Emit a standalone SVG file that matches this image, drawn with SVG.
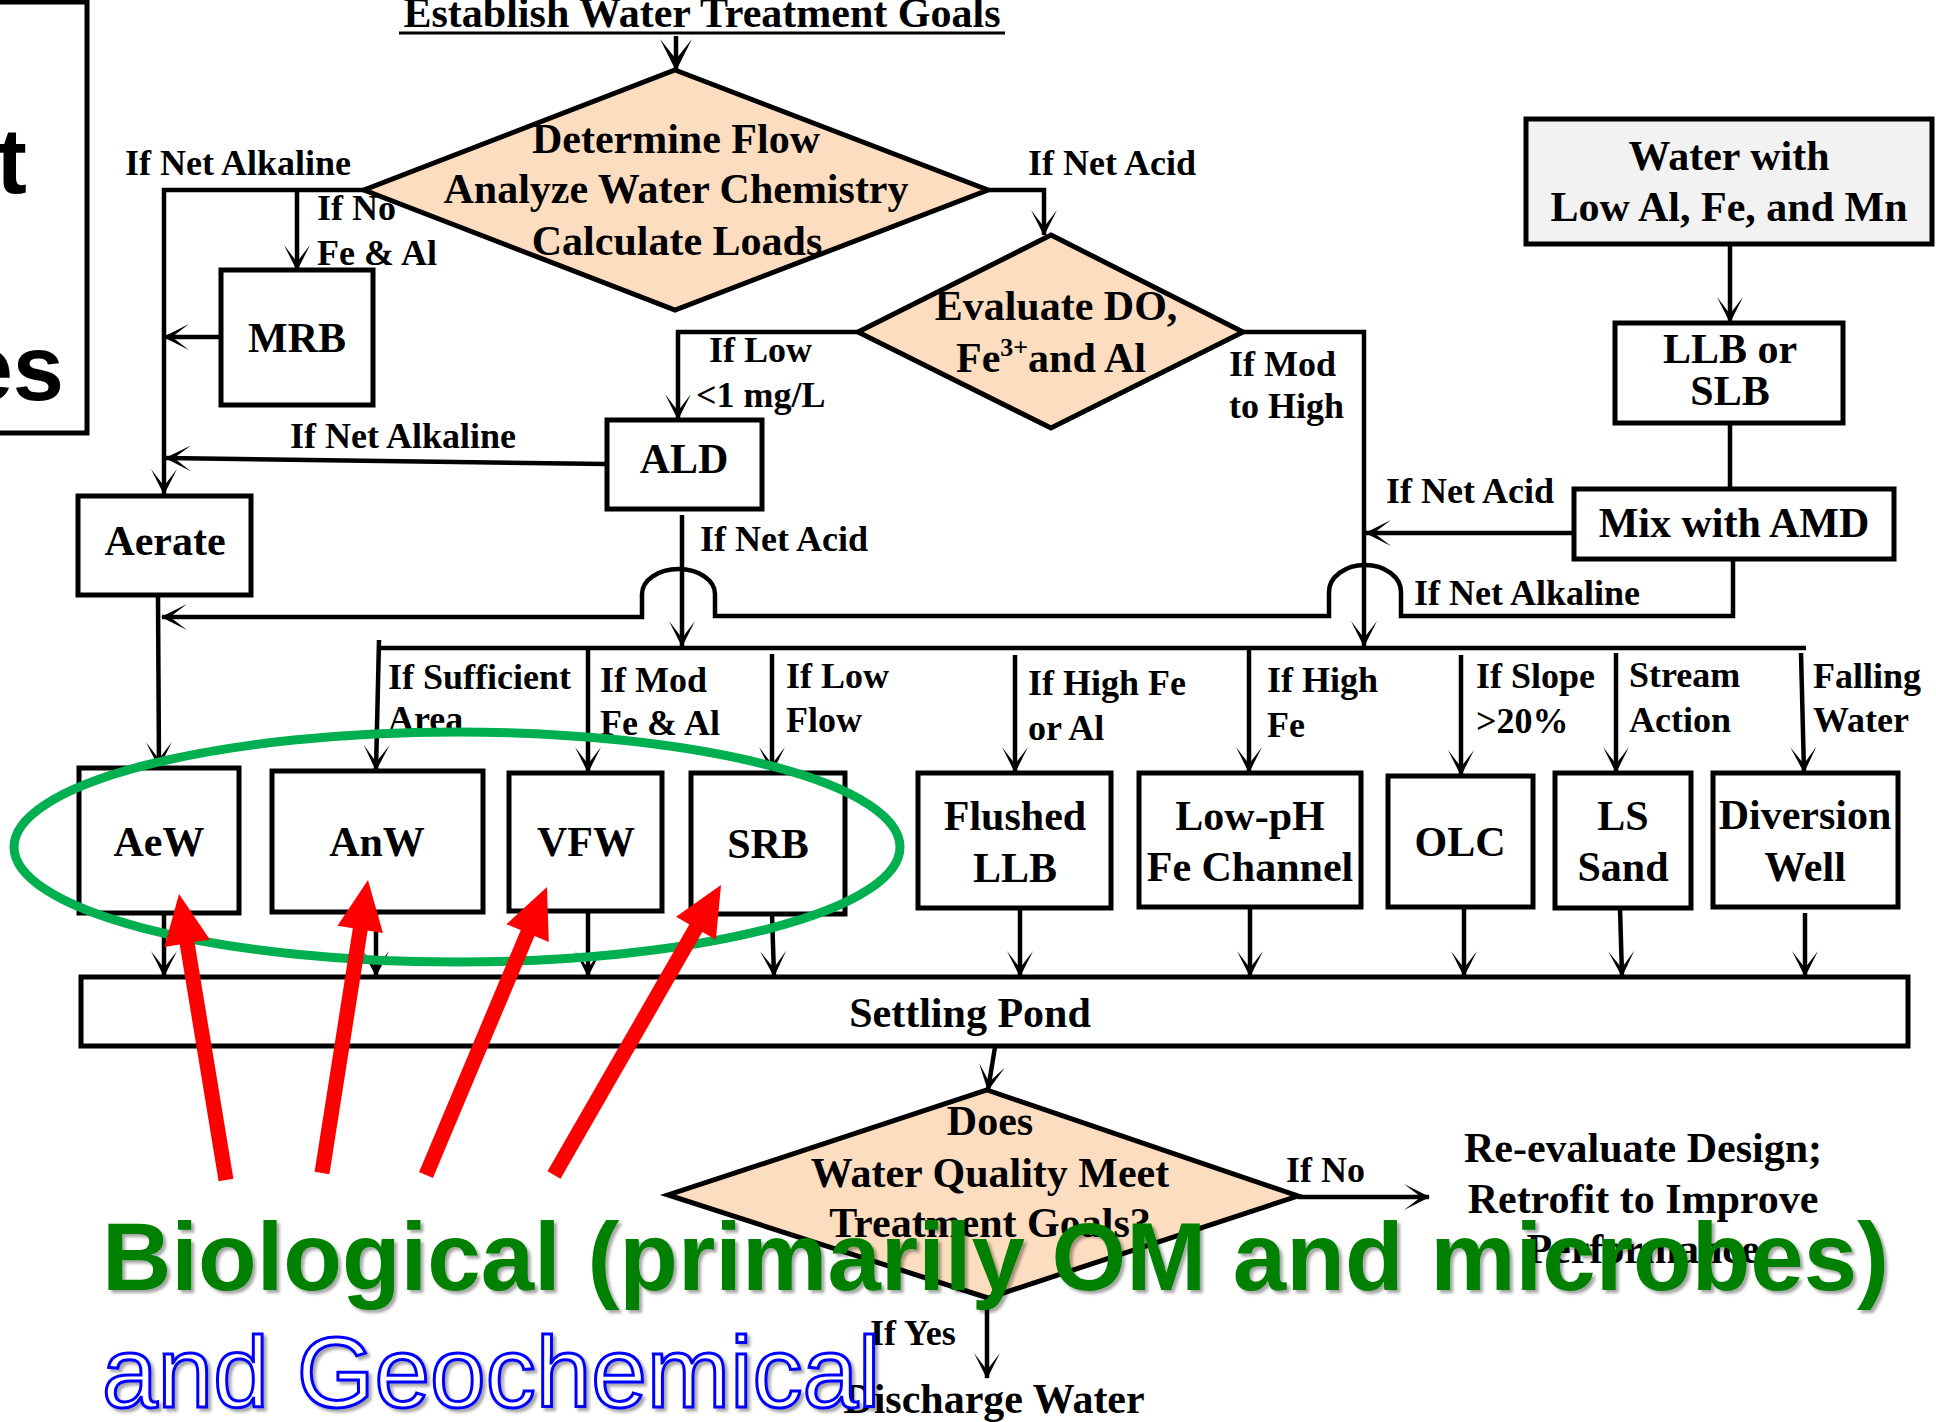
<svg xmlns="http://www.w3.org/2000/svg" width="1936" height="1422" viewBox="0 0 1936 1422">
<defs>
<style>
.bx{fill:#fff;stroke:#000;stroke-width:5}
.dm{fill:#FCDDC0;stroke:#000;stroke-width:5;stroke-linejoin:miter}
.c{fill:none;stroke:#000;stroke-width:4.5}
.ca{fill:none;stroke:#000;stroke-width:4.5;marker-end:url(#ah)}
.t{font-family:"Liberation Serif","Times New Roman",serif;font-weight:bold;font-size:42px;text-anchor:middle;fill:#000}
.l{font-family:"Liberation Serif","Times New Roman",serif;font-weight:bold;font-size:36px;fill:#000}
.red{fill:none;stroke:#FF0000;stroke-width:15}
.rh{fill:#FF0000}
</style>
<marker id="ah" viewBox="0 0 26 26" refX="25" refY="13" markerWidth="26" markerHeight="26" markerUnits="userSpaceOnUse" orient="auto">
<path d="M0,0 L26,13 L0,26 L17,13 z" fill="#000"/>
</marker>
<marker id="ahb" viewBox="0 0 32 32" refX="31" refY="16" markerWidth="32" markerHeight="32" markerUnits="userSpaceOnUse" orient="auto">
<path d="M0,0 L32,16 L0,32 L20,16 z" fill="#000"/>
</marker>
<filter id="sh" x="-5%" y="-20%" width="110%" height="140%">
<feDropShadow dx="3" dy="3" stdDeviation="1.5" flood-color="#000" flood-opacity="0.35"/>
</filter>
</defs>
<rect width="1936" height="1422" fill="#fff"/>

<g id="leftbox">
<rect x="-10" y="2" width="97" height="431" class="bx"/>
<text x="27" y="193" font-family="Liberation Sans,Arial,sans-serif" font-weight="bold" font-size="92" text-anchor="end">t</text>
<text x="64" y="400" font-family="Liberation Sans,Arial,sans-serif" font-weight="bold" font-size="92" text-anchor="end">es</text>
</g>

<g id="connectors">
<path class="c" d="M676,36 L676,70" marker-end="url(#ahb)"/>
<path class="ca" d="M366,190 L164,190 L164,494"/>
<path class="ca" d="M297,190 L297,270"/>
<path class="ca" d="M221,337 L164,337"/>
<path class="ca" d="M988,190 L1044,190 L1044,235"/>
<path class="ca" d="M858,332 L678,332 L678,419"/>
<path class="ca" d="M606,464 L166,458"/>
<path class="ca" d="M158,597 L159,767"/>
<path class="ca" d="M682,515 L682,646"/>
<path class="ca" d="M1243,332 L1364,332 L1364,646"/>
<path class="ca" d="M1730,244 L1730,322"/>
<path class="c" d="M1730,423 L1730,489"/>
<path class="ca" d="M1574,533 L1366,533"/>
<path class="ca" d="M1733,559 L1733,616 L1401,616 L1401,592 A36,27 0 0 0 1329,592 L1329,616 L715,616 L715,594 A36.5,25 0 0 0 642,594 L642,617 L162,617"/>
<path class="c" d="M377,648 L1806,648"/>
<path class="ca" d="M379,640 L376,770"/>
<path class="ca" d="M588,648 L588,772"/>
<path class="ca" d="M772,654 L772,772"/>
<path class="ca" d="M1015,655 L1015,772"/>
<path class="ca" d="M1249,648 L1249,772"/>
<path class="ca" d="M1461,655 L1461,775"/>
<path class="ca" d="M1616,653 L1616,772"/>
<path class="ca" d="M1801,653 L1804,772"/>
<path class="ca" d="M164,915 L164,976"/>
<path class="ca" d="M376,912 L376,976"/>
<path class="ca" d="M588,911 L588,976"/>
<path class="ca" d="M772,914 L774,976"/>
<path class="ca" d="M1020,908 L1020,976"/>
<path class="ca" d="M1250,905 L1250,976"/>
<path class="ca" d="M1464,907 L1464,976"/>
<path class="ca" d="M1620,908 L1622,976"/>
<path class="ca" d="M1805,913 L1805,976"/>
<path class="ca" d="M995,1047 L988,1090"/>
<path class="ca" d="M1298,1197 L1429,1197"/>
<path class="ca" d="M987,1298 L987,1378"/>
</g>

<g id="labels">
<text class="l" x="125" y="175">If Net Alkaline</text>
<text class="l" x="317" y="220">If No</text>
<text class="l" x="317" y="265">Fe &amp; Al</text>
<text class="l" x="1028" y="175">If Net Acid</text>
<text class="l" x="709" y="362">If Low</text>
<text class="l" x="696" y="407">&lt;1 mg/L</text>
<text class="l" x="1229" y="376">If Mod</text>
<text class="l" x="1229" y="418">to High</text>
<text class="l" x="290" y="448">If Net Alkaline</text>
<text class="l" x="700" y="551">If Net Acid</text>
<text class="l" x="1386" y="503">If Net Acid</text>
<text class="l" x="1414" y="605">If Net Alkaline</text>
<text class="l" x="388" y="689">If Sufficient</text>
<text class="l" x="388" y="731">Area</text>
<text class="l" x="600" y="692">If Mod</text>
<text class="l" x="600" y="735">Fe &amp; Al</text>
<text class="l" x="786" y="688">If Low</text>
<text class="l" x="786" y="732">Flow</text>
<text class="l" x="1028" y="695">If High Fe</text>
<text class="l" x="1028" y="740">or Al</text>
<text class="l" x="1267" y="692">If High</text>
<text class="l" x="1267" y="737">Fe</text>
<text class="l" x="1476" y="688">If Slope</text>
<text class="l" x="1476" y="733">&gt;20%</text>
<text class="l" x="1629" y="687">Stream</text>
<text class="l" x="1629" y="732">Action</text>
<text class="l" x="1813" y="688">Falling</text>
<text class="l" x="1813" y="732">Water</text>
<text class="l" x="1286" y="1182">If No</text>
<text class="l" x="870" y="1345">If Yes</text>
</g>

<g id="title">
<text class="t" x="702" y="27">Establish Water Treatment Goals</text>
<line x1="399" y1="33" x2="1005" y2="33" stroke="#000" stroke-width="3"/>
</g>

<g id="determine">
<polygon class="dm" points="675,70 988,190 675,310 364,190"/>
<text class="t" x="676" y="153">Determine Flow</text>
<text class="t" x="676" y="203">Analyze Water Chemistry</text>
<text class="t" x="677" y="255">Calculate Loads</text>
</g>

<g id="mrb">
<rect class="bx" x="221" y="270" width="152" height="135"/>
<text class="t" x="297" y="352">MRB</text>
</g>

<g id="evaluate">
<polygon class="dm" points="1051,235 1243,332 1051,428 858,332"/>
<text class="t" x="1056" y="320">Evaluate DO,</text>
<text class="t" x="1051" y="372">Fe<tspan font-size="26" dy="-16">3+</tspan><tspan dy="16">and Al</tspan></text>
</g>

<g id="ald">
<rect class="bx" x="607" y="420" width="155" height="89"/>
<text class="t" x="684" y="473">ALD</text>
</g>

<g id="aerate">
<rect class="bx" x="78" y="496" width="173" height="99"/>
<text class="t" x="165" y="555">Aerate</text>
</g>

<g id="water">
<rect x="1526" y="119" width="406" height="125" fill="#F2F2F2" stroke="#000" stroke-width="5"/>
<text class="t" x="1729" y="170">Water with</text>
<text class="t" x="1729" y="221">Low Al, Fe, and Mn</text>
</g>

<g id="llb">
<rect class="bx" x="1615" y="323" width="228" height="100"/>
<text class="t" x="1730" y="363">LLB or</text>
<text class="t" x="1730" y="405">SLB</text>
</g>

<g id="mix">
<rect class="bx" x="1574" y="489" width="320" height="70"/>
<text class="t" x="1734" y="537">Mix with AMD</text>
</g>

<g id="aew">
<rect class="bx" x="79" y="768" width="160" height="145"/>
<text class="t" x="159" y="856">AeW</text>
</g>
<g id="anw">
<rect class="bx" x="272" y="771" width="211" height="141"/>
<text class="t" x="377" y="856">AnW</text>
</g>
<g id="vfw">
<rect class="bx" x="509" y="773" width="153" height="138"/>
<text class="t" x="586" y="856">VFW</text>
</g>
<g id="srb">
<rect class="bx" x="691" y="773" width="154" height="141"/>
<text class="t" x="768" y="858">SRB</text>
</g>
<g id="flushed">
<rect class="bx" x="918" y="773" width="193" height="135"/>
<text class="t" x="1015" y="830">Flushed</text>
<text class="t" x="1015" y="882">LLB</text>
</g>
<g id="lowph">
<rect class="bx" x="1139" y="773" width="222" height="134"/>
<text class="t" x="1250" y="830">Low-pH</text>
<text class="t" x="1250" y="881">Fe Channel</text>
</g>
<g id="olc">
<rect class="bx" x="1388" y="776" width="145" height="131"/>
<text class="t" x="1460" y="856">OLC</text>
</g>
<g id="lssand">
<rect class="bx" x="1555" y="773" width="136" height="135"/>
<text class="t" x="1623" y="830">LS</text>
<text class="t" x="1623" y="881">Sand</text>
</g>
<g id="diversion">
<rect class="bx" x="1713" y="773" width="185" height="134"/>
<text class="t" x="1805" y="829">Diversion</text>
<text class="t" x="1805" y="881">Well</text>
</g>

<g id="pond">
<rect class="bx" x="81" y="977" width="1827" height="69"/>
<text class="t" x="970" y="1027">Settling Pond</text>
</g>

<g id="quality">
<polygon class="dm" points="987,1090 1298,1196 988,1298 668,1195"/>
<text class="t" x="990" y="1135">Does</text>
<text class="t" x="990" y="1187">Water Quality Meet</text>
<text class="t" x="990" y="1237">Treatment Goals?</text>
</g>

<g id="reevaluate">
<text class="t" x="1643" y="1162">Re-evaluate Design;</text>
<text class="t" x="1643" y="1213">Retrofit to Improve</text>
<text class="t" x="1643" y="1263">Performance</text>
</g>

<g id="discharge">
<text class="t" x="994" y="1413">Discharge Water</text>
</g>

<g id="overlay">
<ellipse cx="457" cy="847" rx="443" ry="115" fill="none" stroke="#00B050" stroke-width="9"/>
<path class="red" d="M226,1180 L185.5,933.5"/>
<polygon class="rh" points="179,894 209.8,939.6 164.4,947"/>
<path class="red" d="M322,1173 L361.8,919.5"/>
<polygon class="rh" points="368,880 382.9,933 337.5,925.8"/>
<path class="red" d="M426,1175 L531.5,923.9"/>
<polygon class="rh" points="547,887 548.8,942 506.4,924.2"/>
<path class="red" d="M554,1175 L701,919.3"/>
<polygon class="rh" points="721,885 715.9,939.8 676.1,916.8"/>
<text x="102" y="1290" font-family="Liberation Sans,Arial,sans-serif" font-weight="bold" font-size="96" fill="#008000" filter="url(#sh)">Biological (primarily OM and microbes)</text>
<text x="102" y="1407" font-family="Liberation Sans,Arial,sans-serif" font-size="100" fill="#fff" stroke="#0000FF" stroke-width="3" filter="url(#sh)">and Geochemical</text>
</g>
</svg>
